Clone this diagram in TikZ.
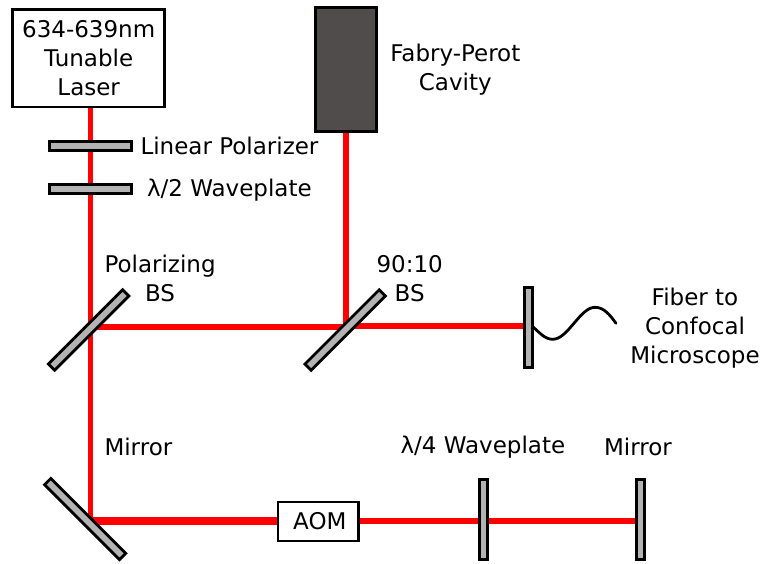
\documentclass[tikz,border=0pt]{standalone}
\usepackage{fontspec}
\setmainfont{DejaVu Sans}
\usetikzlibrary{backgrounds}
\definecolor{platefill}{HTML}{B3B3B3}
\definecolor{cavityfill}{HTML}{514C4C}
\tikzset{
  every node/.style={font=\fontsize{23pt}{29pt}\selectfont,inner sep=0pt,outer sep=0pt},
  plate/.style={draw=black,line width=2.8pt,fill=platefill,minimum height=9pt},
  dplate/.style={draw=black,line width=2.8pt,fill=platefill,minimum height=8.8pt},
  vplate/.style={draw=black,line width=2.8pt,fill=platefill,minimum width=7.8pt,minimum height=80pt},
  box/.style={draw=black,line width=2.6pt,fill=white,align=center},
  lbl/.style={anchor=base,align=center},
  lbll/.style={anchor=base west},
  beam/.style={draw=red,line width=#1},
  fiber/.style={draw=black,line width=2.8pt,line cap=round}
}
\begin{document}
\begin{tikzpicture}[x=1pt,y=-1pt]
\useasboundingbox (0,0) rectangle (761,563);
% boxes
\node[box,minimum width=152pt,minimum height=97.5pt] (laser) at (88.7,58.3) {\raisebox{-1pt}{634-639nm}\\\raisebox{-1pt}{Tunable}\\\raisebox{-1pt}{Laser}};
\node[draw=black,line width=3pt,fill=cavityfill,minimum width=61pt,minimum height=124pt] (cavity) at (346,69) {};
\node[box,minimum width=80.6pt,minimum height=39pt] (aom) at (318.3,521.5) {\hspace*{3pt}\raisebox{-1pt}{AOM}};
% plates
\node[plate,minimum width=81.6pt] (pol) at (90.5,145.9) {};
\node[plate,minimum width=81.6pt] (hwp) at (90.5,189) {};
\node[dplate,minimum width=105pt,rotate=45] (bs1) at (88.6,330) {};
\node[dplate,minimum width=105pt,rotate=45] (bs2) at (345.2,330) {};
\node[dplate,minimum width=106pt,rotate=-45] (m1) at (85.2,519) {};
\node[vplate] (fib) at (528.3,327.5) {};
\node[vplate] (qwp) at (483.5,519.5) {};
\node[vplate] (m2) at (640.5,519.5) {};
% beam junctions
\coordinate (j1) at (90.3,326.5);
\coordinate (j2) at (346,326.5);
\coordinate (j3) at (90.3,520.5);
\coordinate (j4) at (346,325.8);
\begin{scope}[on background layer]
  \draw[beam=5pt] (laser.south -| j1) -- (j1);
  \draw[beam=5pt] (j1) -- (j3);
  \draw[beam=5.5pt] (cavity.south -| j2) -- (j2);
  \draw[beam=6pt] (j1) -- (j2);
  \draw[beam=6pt] (j4) -- (fib.west |- j4);
  \draw[beam=8pt] (j3) -- (aom.west |- j3);
  \draw[beam=6pt] (aom.east |- j3) -- (qwp.west |- j3);
  \draw[beam=6pt] (qwp.east |- j3) -- (m2.west |- j3);
\end{scope}
% fiber
\coordinate (fend) at (616,323.3);
\draw[fiber] (532.7,326.7) .. controls (540,333) and (545,339.3) .. (552.7,339.3)
  .. controls (568,339.3) and (580,307.3) .. (595,307.3)
  .. controls (604,307.3) and (610,315) .. (fend);
% labels
\node[lbll] (t1) at (140.5,154.3) {Linear Polarizer};
\node[lbll] (t2) at (147,196) {λ/2 Waveplate};
\node[align=center] (t3) at (455.3,69.5) {Fabry-Perot\\Cavity};
\node[lbll] (t4) at (104.5,272.3) {Polarizing};
\node[lbl] (t5) at (160,301) {BS};
\node[lbl] (t6) at (409.7,272.3) {90:10};
\node[lbl] (t7) at (409.7,301) {BS};
\node[align=center] (t8) at (695,328) {Fiber to\\Confocal\\Microscope};
\node[lbll] (t9) at (104.5,455) {Mirror};
\node[lbll] (t10) at (400.5,453) {λ/4 Waveplate};
\node[lbl] (t11) at (638,455) {Mirror};
\end{tikzpicture}
\end{document}
